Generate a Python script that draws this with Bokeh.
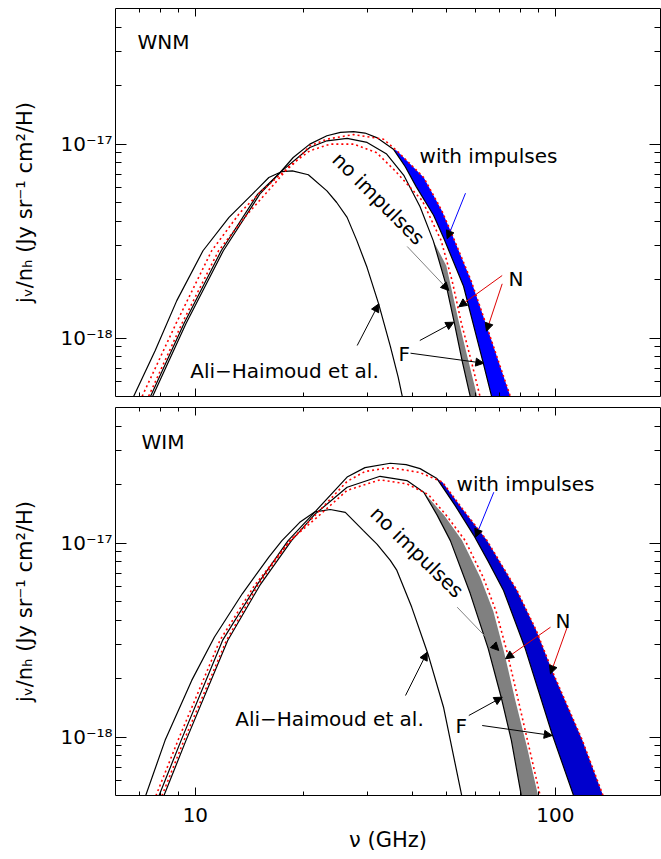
import math
from bokeh.plotting import figure
from bokeh.layouts import column
from bokeh.models import (Range1d, FixedTicker, LogAxis, Label, Arrow, NormalHead,
                          CustomJSTickFormatter)
from bokeh.embed import file_html
from bokeh.resources import INLINE

# ---------------------------------------------------------------- data (GHz, Jy sr^-1 cm^2 / H)
# WNM panel
wnm_ah_freq = [6.65, 7.73, 8.88, 10.5, 12.4, 14.4, 16.0, 17.4, 18.6, 20.6, 23.2, 24.7, 26.4, 28.1, 30.0, 32.3, 34.8, 36.6, 37.8]
wnm_ah_j = [4.75e-19, 8.6e-19, 1.56e-18, 2.82e-18, 4.19e-18, 5.52e-18, 6.73e-18, 7.22e-18, 7.28e-18, 6.95e-18,
            5.74e-18, 5.0e-18, 4.19e-18, 3.18e-18, 2.31e-18, 1.50e-18, 9.1e-19, 6.3e-19, 4.75e-19]

wnm_imp_freq = [7.51, 9.42, 11.96, 15.1, 17.2, 18.7, 20.8, 23.2, 25.3, 27.5, 29.6, 31.9, 35.5, 38.3, 41.1, 45.9,
                49.1, 55.6, 63.1, 67.0]
wnm_imp_j = [4.75e-19, 1.19e-18, 2.82e-18, 5.52e-18, 7.14e-18, 8.53e-18, 1.0e-17, 1.104e-17, 1.15e-17, 1.16e-17,
             1.14e-17, 1.08e-17, 9.42e-18, 7.64e-18, 6.02e-18, 4.3e-18, 3.24e-18, 1.85e-18, 7.4e-19, 4.75e-19]

wnm_noimp_freq = [7.41, 9.30, 11.8, 14.9, 17.4, 20.8, 23.2, 26.4, 30.0, 34.0, 38.0, 42.1, 45.8, 49.8, 52.4, 55.1, 58.4]
wnm_noimp_j = [4.75e-19, 1.19e-18, 2.82e-18, 5.52e-18, 7.28e-18, 9.6e-18, 1.04e-17, 1.07e-17, 1.02e-17, 8.88e-18,
               6.87e-18, 4.75e-18, 3.18e-18, 1.86e-18, 1.20e-18, 7.64e-19, 4.75e-19]

wnm_noimp_F_freq = [45.8, 49.8, 53.7, 56.9, 61.1]
wnm_noimp_F_j = [3.18e-18, 2.36e-18, 1.26e-18, 8.1e-19, 4.75e-19]

wnm_noimp_N_freq = [7.32, 9.18, 11.6, 13.9, 16.7, 18.3, 20.8, 23.7, 27.5, 31.9, 35.9, 42.7, 48.2, 51.7, 54.8, 58.4, 62.2]
wnm_noimp_N_j = [4.75e-19, 1.19e-18, 2.82e-18, 4.32e-18, 6.33e-18, 7.73e-18, 9.24e-18, 1.0e-17, 1.0e-17, 9.02e-18,
                 7.28e-18, 5.11e-18, 3.18e-18, 1.97e-18, 1.20e-18, 7.64e-19, 4.75e-19]

wnm_imp_N_freq = [7.02, 8.84, 11.1, 13.3, 15.3, 17.2, 18.7, 20.8, 23.2, 27.5, 33.3, 36.3, 43.1, 48.4, 51.6, 58.4, 64.9, 75.7]
wnm_imp_N_j = [4.75e-19, 1.19e-18, 2.82e-18, 4.43e-18, 5.74e-18, 6.95e-18, 7.88e-18, 9.8e-18, 1.06e-17, 1.12e-17,
               1.06e-17, 9.24e-18, 6.73e-18, 4.53e-18, 3.44e-18, 1.97e-18, 1.11e-18, 4.75e-19]

wnm_imp_band_start = 35.5
wnm_noimp_band_start = 45.8

# WIM panel
wim_ah_freq = [7.20, 8.24, 9.77, 11.3, 13.5, 16.0, 17.4, 19.5, 21.5, 23.7, 26.1, 29.3, 32.0, 34.8, 36.3, 39.9, 44.4, 48.9, 55.3]
wim_ah_j = [4.72e-19, 9.62e-19, 1.96e-18, 3.28e-18, 5.48e-18, 8.47e-18, 1.03e-17, 1.28e-17, 1.45e-17, 1.49e-17,
            1.44e-17, 1.16e-17, 9.85e-18, 8.15e-18, 7.23e-18, 4.68e-18, 2.64e-18, 1.43e-18, 4.72e-19]

wim_imp_freq = [7.83, 9.13, 11.9, 14.8, 18.1, 21.5, 26.4, 29.6, 34.8, 38.5, 42.1, 46.9, 52.7, 59.3, 65.1, 71.8, 82.5,
                97.9, 113.6]
wim_imp_j = [4.72e-19, 9.62e-19, 3.15e-18, 6.05e-18, 1.03e-17, 1.45e-17, 2.19e-17, 2.45e-17, 2.58e-17, 2.54e-17,
             2.42e-17, 2.15e-17, 1.56e-17, 1.10e-17, 8.05e-18, 5.70e-18, 2.86e-18, 1.04e-18, 4.72e-19]

wim_noimp_freq = [8.08, 9.42, 12.3, 15.1, 18.5, 21.5, 26.4, 32.6, 38.7, 43.1, 47.0, 51.1, 58.0, 65.1, 70.7, 75.5, 80.9]
wim_noimp_j = [4.72e-19, 9.62e-19, 3.15e-18, 6.05e-18, 1.03e-17, 1.41e-17, 1.94e-17, 2.21e-17, 2.10e-17, 1.83e-17,
               1.39e-17, 1.03e-17, 5.51e-18, 2.86e-18, 1.61e-18, 9.62e-19, 4.72e-19]

wim_noimp_F_freq = [43.1, 49.1, 55.1, 61.9, 67.3, 72.1, 77.4, 83.6, 90.2]
wim_noimp_F_j = [1.83e-17, 1.39e-17, 1.03e-17, 6.65e-18, 4.44e-18, 2.73e-18, 1.55e-18, 8.75e-19, 4.72e-19]

wim_noimp_N_freq = [7.98, 9.30, 12.2, 14.9, 18.3, 21.9, 26.4, 32.6, 38.7, 44.4, 49.8, 56.2, 63.1, 68.5, 73.5, 78.9, 84.7, 91.4]
wim_noimp_N_j = [4.72e-19, 9.62e-19, 3.15e-18, 6.05e-18, 1.03e-17, 1.37e-17, 1.87e-17, 2.12e-17, 2.02e-17, 1.78e-17,
                 1.39e-17, 1.03e-17, 6.65e-18, 4.44e-18, 2.73e-18, 1.55e-18, 8.75e-19, 4.72e-19]

wim_imp_N_freq = [7.68, 8.95, 11.7, 14.6, 18.2, 21.5, 26.4, 29.6, 34.8, 42.1, 48.6, 55.1, 64.6, 78.3, 88.5, 98.7, 118.9, 137.3]
wim_imp_N_j = [4.72e-19, 9.62e-19, 3.15e-18, 6.05e-18, 1.01e-17, 1.39e-17, 2.08e-17, 2.34e-17, 2.45e-17, 2.31e-17,
               2.06e-17, 1.51e-17, 1.03e-17, 5.70e-18, 3.55e-18, 2.13e-18, 9.62e-19, 4.72e-19]

wim_imp_band_start = 46.9
wim_noimp_band_start = 43.1

x_major_ticks = [10, 100]
x_minor_ticks = [7, 8, 9, 20, 30, 40, 50, 60, 70, 80, 90]
y_major_ticks = [1e-18, 1e-17]
y_minor_ticks = [6e-19, 7e-19, 8e-19, 9e-19, 2e-18, 3e-18, 4e-18, 5e-18, 6e-18, 7e-18, 8e-18, 9e-18,
                 2e-17, 3e-17, 4e-17]
y_axis_title = "j\u1d65/n\u2095 (Jy sr\u207b\u00b9 cm\u00b2/H)"
x_axis_title = "\u03bd (GHz)"

# ---------------------------------------------------------------- layout helpers
FONT = "DejaVu Sans"
X_LO, X_HI = 6.0, 196.0
Y_LO, Y_HI = 5e-19, 5e-17
FRAME_L, FRAME_W, FRAME_H = 115, 545, 388
LX0, LX1 = math.log10(X_LO), math.log10(X_HI)
LY0, LY1 = math.log10(Y_LO), math.log10(Y_HI)

BLANK = "return '';"
Y_FMT = r"return tick < 5e-18 ? '10\u207b\u00b9\u2078' : '10\u207b\u00b9\u2077';"
X_FMT = "return String(Math.round(tick));"


def to_data(px, py, fb):
    x = 10 ** (LX0 + (px - FRAME_L) / FRAME_W * (LX1 - LX0))
    y = 10 ** (LY0 + (fb - py) / FRAME_H * (LY1 - LY0))
    return x, y


def style_axis(ax, ticker, major_in, minor_in, code=BLANK, standoff=0):
    ax.ticker = ticker
    ax.formatter = CustomJSTickFormatter(code=code)
    ax.major_tick_in = major_in
    ax.major_tick_out = 0
    ax.minor_tick_in = minor_in
    ax.minor_tick_out = 0
    ax.major_label_standoff = standoff
    ax.major_label_text_font = FONT
    ax.major_label_text_font_size = "20px"
    ax.major_label_text_color = "black"
    ax.axis_line_color = "black"
    ax.axis_line_width = 1
    ax.major_tick_line_color = "black"
    ax.minor_tick_line_color = "black"
    ax.axis_label_text_font = FONT
    ax.axis_label_text_font_size = "21px"
    ax.axis_label_text_font_style = "normal"
    ax.axis_label_text_color = "black"


def make_panel(height, top, bottom, show_x):
    p = figure(width=661, height=height, x_axis_type="log", y_axis_type="log",
               x_range=Range1d(X_LO, X_HI), y_range=Range1d(Y_LO, Y_HI),
               output_backend="svg", toolbar_location=None,
               min_border_left=FRAME_L, min_border_right=1,
               min_border_top=top, min_border_bottom=bottom)
    p.xgrid.visible = False
    p.ygrid.visible = False
    p.outline_line_color = None
    p.add_layout(LogAxis(), "above")
    p.add_layout(LogAxis(), "right")
    xt = lambda: FixedTicker(ticks=x_major_ticks, minor_ticks=x_minor_ticks)
    yt = lambda: FixedTicker(ticks=y_major_ticks, minor_ticks=y_minor_ticks)
    style_axis(p.left[0], yt(), 11, 6, Y_FMT, 3)
    p.left[0].axis_label = y_axis_title
    p.left[0].axis_label_standoff = 20
    style_axis(p.right[0], yt(), 11, 6)
    style_axis(p.above[0], xt(), 8, 4)
    if show_x:
        style_axis(p.below[0], xt(), 8, 4, X_FMT, 12)
        p.below[0].axis_label = x_axis_title
        p.below[0].axis_label_standoff = 3
    else:
        style_axis(p.below[0], xt(), 8, 4)
    return p


def text(p, fb, px, py, s, size=20, align="left", baseline="alphabetic", angle=0.0):
    x, y = to_data(px, py, fb)
    p.add_layout(Label(x=x, y=y, text=s, text_font=FONT, text_font_size=f"{size}px",
                       text_align=align, text_baseline=baseline, angle=angle,
                       text_color="black"))


def arrow(p, fb, start, end, color):
    x0, y0 = to_data(start[0], start[1], fb)
    x1, y1 = to_data(end[0], end[1], fb)
    p.add_layout(Arrow(end=NormalHead(size=8, fill_color="black", line_color="black", line_width=1),
                       x_start=x0, y_start=y0, x_end=x1, y_end=y1,
                       line_color=color, line_width=1))


def band(f_lo, j_lo, f_hi, j_hi, start):
    xs = [f for f in f_lo if f >= start]
    ys = [j for f, j in zip(f_lo, j_lo) if f >= start]
    xs2 = [f for f in f_hi if f >= start]
    ys2 = [j for f, j in zip(f_hi, j_hi) if f >= start]
    return xs + xs2[::-1], ys + ys2[::-1]


def draw_panel(p, ah, imp, noimp, noimpF, noimpN, impN, imp_start, noimp_start, blue):
    p.line(ah[0], ah[1], line_color="black", line_width=1.2)
    gx, gy = band(noimp[0], noimp[1], noimpF[0], noimpF[1], noimp_start)
    p.patch(gx, gy, fill_color="#808080", line_color=None)
    bx, by = band(imp[0], imp[1], impN[0], impN[1], imp_start)
    p.patch(bx, by, fill_color=blue, line_color=None)
    p.line(noimp[0], noimp[1], line_color="black", line_width=1.2)
    p.line(imp[0], imp[1], line_color="black", line_width=1.2)
    p.line(noimpN[0], noimpN[1], line_color="#ff0000", line_width=1.6, line_dash="2 3")
    p.line(impN[0], impN[1], line_color="#ff0000", line_width=1.6, line_dash="2 3")


# ---------------------------------------------------------------- top panel (WNM)
FB1 = 396
p1 = make_panel(401, 8, 5, False)
draw_panel(p1, (wnm_ah_freq, wnm_ah_j), (wnm_imp_freq, wnm_imp_j), (wnm_noimp_freq, wnm_noimp_j),
           (wnm_noimp_F_freq, wnm_noimp_F_j), (wnm_noimp_N_freq, wnm_noimp_N_j),
           (wnm_imp_N_freq, wnm_imp_N_j), wnm_imp_band_start, wnm_noimp_band_start, "#0000ff")
arrow(p1, FB1, (465, 192.7), (446.7, 238.3), "#0000ff")
arrow(p1, FB1, (406.7, 246), (448.3, 290), "#808080")
arrow(p1, FB1, (501.7, 275), (458.3, 306.3), "#dd0000")
arrow(p1, FB1, (501.7, 283.3), (486, 330.7), "#dd0000")
arrow(p1, FB1, (419.3, 340), (453.3, 321.7), "black")
arrow(p1, FB1, (410, 352.7), (483.3, 362.7), "black")
arrow(p1, FB1, (356.7, 345), (378.3, 303.3), "black")
text(p1, FB1, 137, 41.7, "WNM")
text(p1, FB1, 488, 155, "with impulses", align="center")
text(p1, FB1, 378, 198, "no impulses", align="center", baseline="middle", angle=-0.785)
text(p1, FB1, 508, 278, "N")
text(p1, FB1, 398, 353, "F")
text(p1, FB1, 284, 370, "Ali\u2212Haimoud et al.", align="center")

# ---------------------------------------------------------------- bottom panel (WIM)
FB2 = 795
p2 = make_panel(458, 6, 64, True)
draw_panel(p2, (wim_ah_freq, wim_ah_j), (wim_imp_freq, wim_imp_j), (wim_noimp_freq, wim_noimp_j),
           (wim_noimp_F_freq, wim_noimp_F_j), (wim_noimp_N_freq, wim_noimp_N_j),
           (wim_imp_N_freq, wim_imp_N_j), wim_imp_band_start, wim_noimp_band_start, "#0000cd")
arrow(p2, FB2, (493.3, 491.7), (475, 536.7), "#0000ff")
arrow(p2, FB2, (456.7, 606.7), (498.3, 650), "#808080")
arrow(p2, FB2, (550, 626.7), (505, 658.3), "#dd0000")
arrow(p2, FB2, (566.7, 626.7), (550, 673.3), "#dd0000")
arrow(p2, FB2, (468.3, 715), (501.7, 696.7), "black")
arrow(p2, FB2, (481.7, 725), (551.7, 735), "black")
arrow(p2, FB2, (405, 695), (426.7, 651.7), "black")
text(p2, FB2, 141, 441.7, "WIM")
text(p2, FB2, 525, 483.3, "with impulses", align="center")
text(p2, FB2, 416.5, 551.5, "no impulses", align="center", baseline="middle", angle=-0.77)
text(p2, FB2, 555, 620, "N")
text(p2, FB2, 455, 725, "F")
text(p2, FB2, 329, 718.3, "Ali\u2212Haimoud et al.", align="center")

layout = column(p1, p2)
open("out.html", "w").write(file_html(layout, INLINE))
